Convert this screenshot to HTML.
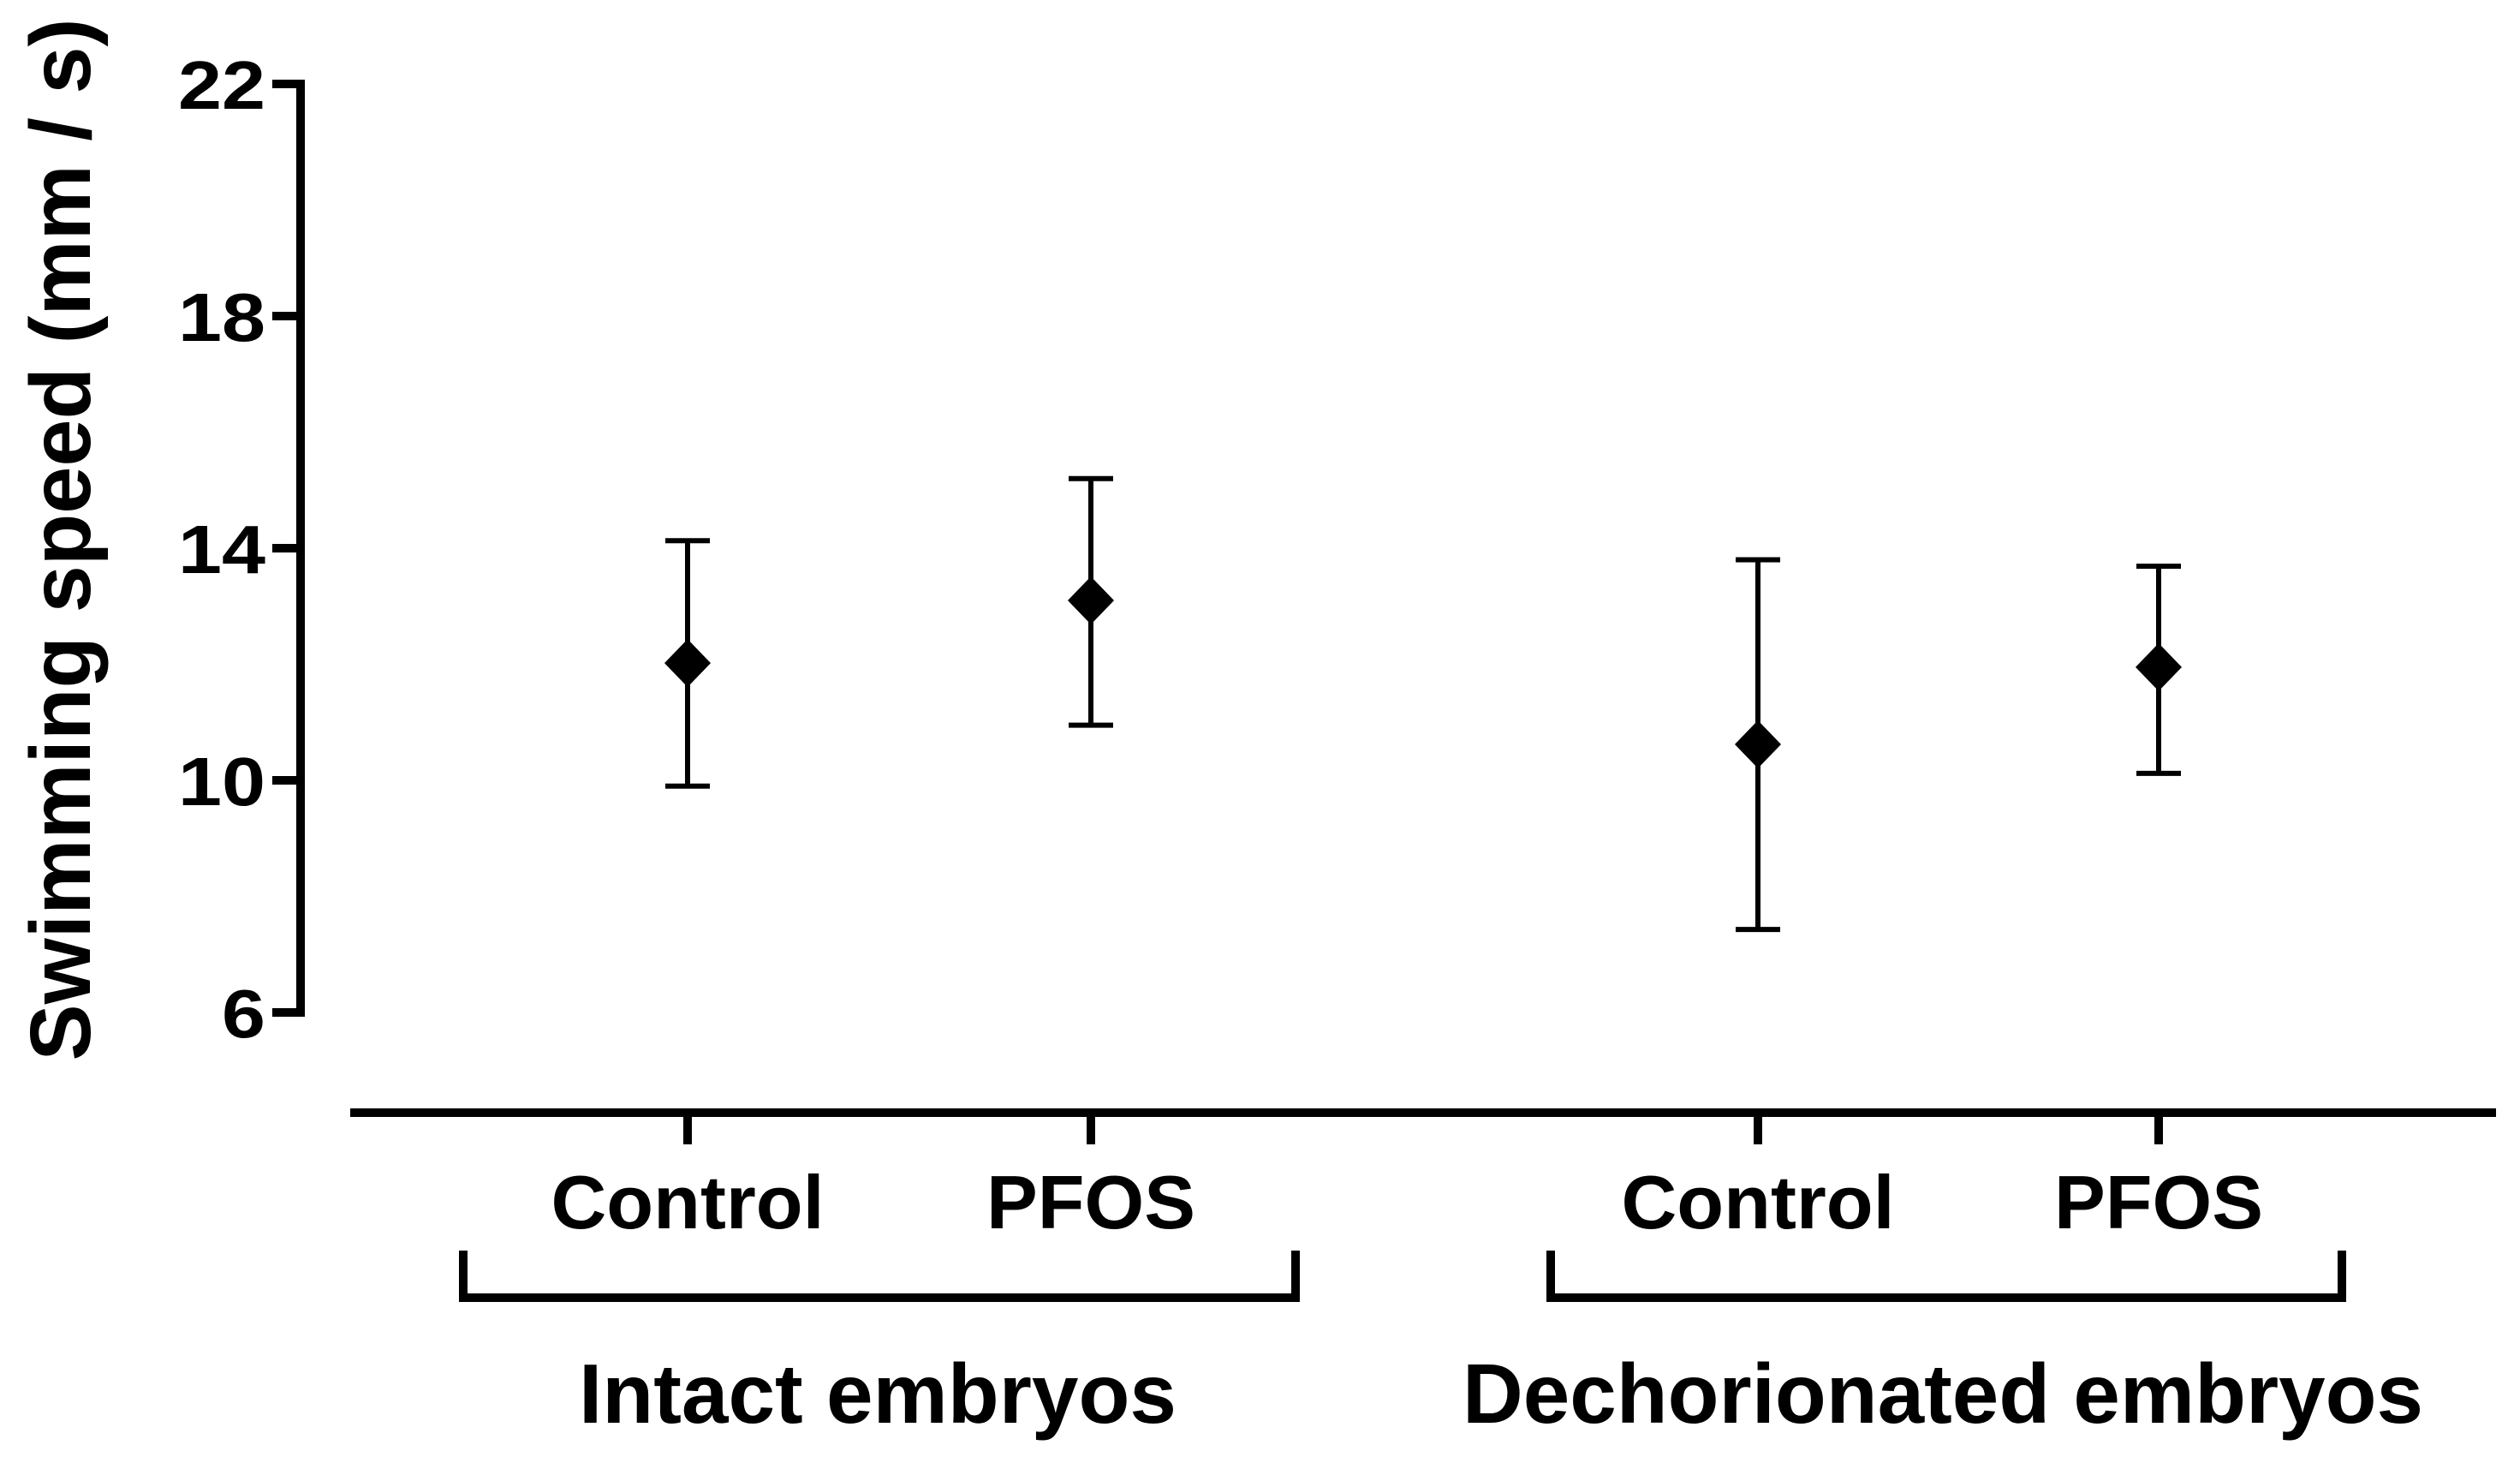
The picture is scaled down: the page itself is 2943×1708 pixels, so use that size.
<!DOCTYPE html>
<html><head><meta charset="utf-8"><style>
html,body{margin:0;padding:0;background:#fff;}
svg{display:block;font-family:"Liberation Sans",Arial,sans-serif;font-weight:bold;}
</style></head><body>
<svg id="chart" width="2943" height="1708" viewBox="0 0 2943 1708">
<g id="axes"></g><g id="marks"></g>
</svg>
<script>
const categories = ["Control","PFOS","Control","PFOS"];
const groups = ["Intact embryos","Dechorionated embryos"];
const means = [12.02, 13.1, 10.62, 11.95];
const upper = [14.13, 15.2, 13.8, 13.69];
const lower = [9.9, 10.95, 7.43, 10.12];
const yTicks = [6, 10, 14, 18, 22];

const NS = "http://www.w3.org/2000/svg";
const catX = [803, 1274, 2053, 2521];
function y(v){ return 1182 - (v - 6) * (1182 - 98) / 16; }
function x(i){ return catX[i]; }
function mk(tag, attrs, parent, text){
  const e = document.createElementNS(NS, tag);
  for (const k in attrs) e.setAttribute(k, attrs[k]);
  if (text !== undefined) e.textContent = text;
  parent.appendChild(e); return e;
}
const axes = document.getElementById('axes');
const marks = document.getElementById('marks');

let yl = mk('line', {x1:351, y1:y(22)-5, x2:351, y2:y(6)+5, stroke:'#000','stroke-width':10}, axes);


yTicks.forEach(t => {
  const tk = mk('line', {x1:318, y1:y(t), x2:351, y2:y(t), stroke:'#000','stroke-width':10}, axes);
  
  
  const s = String(t);
  const lb = mk('text', {x:310, y:y(t)+29, 'text-anchor':'end','font-size':80, textLength:s.length*51, lengthAdjust:'spacingAndGlyphs'}, axes, s);
  
  
});
const yt = mk('text', {x:0, y:0, 'text-anchor':'middle','font-size':100, textLength:1217, lengthAdjust:'spacingAndGlyphs', transform:'translate(105,630) rotate(-90)'}, axes, 'Swimming speed (mm / s)');



const xl = mk('line', {x1:409, y1:1299, x2:2915, y2:1299, stroke:'#000','stroke-width':10}, axes);


const catW = {"Control":319, "PFOS":244};
categories.forEach((c, i) => {
  const tk = mk('line', {x1:x(i), y1:1299, x2:x(i), y2:1336, stroke:'#000','stroke-width':10}, axes);
  
  
  const lb = mk('text', {x:x(i), y:1434, 'text-anchor':'middle','font-size':88, textLength:catW[c], lengthAdjust:'spacingAndGlyphs'}, axes, c);
  
  
});
const brackets = [[541,1513],[1811,2735]];
const gcx = [1025, 2269];
const gw = [698, 1122];
groups.forEach((g, i) => {
  const [a, b] = brackets[i];
  const br = mk('path', {d:`M${a} 1460 V1515 H${b} V1460`, fill:'none', stroke:'#000','stroke-width':10}, axes);
  
  
  const lb = mk('text', {x:gcx[i], y:1661, 'text-anchor':'middle','font-size':98, textLength:gw[i], lengthAdjust:'spacingAndGlyphs'}, axes, g);
  
  
});

means.forEach((m, i) => {
  const cx = x(i);
  const eb = mk('path', {d:`M${cx} ${y(upper[i])} V${y(lower[i])} M${cx-26} ${y(upper[i])} H${cx+26} M${cx-26} ${y(lower[i])} H${cx+26}`, fill:'none', stroke:'#000','stroke-width':6}, marks);
  
  
  const cy = y(m);
  const d = mk('path', {d:`M${cx} ${cy-28} L${cx+27} ${cy} L${cx} ${cy+28} L${cx-27} ${cy} Z`, fill:'#000'}, marks);
  
  
});
</script>
</body></html>
